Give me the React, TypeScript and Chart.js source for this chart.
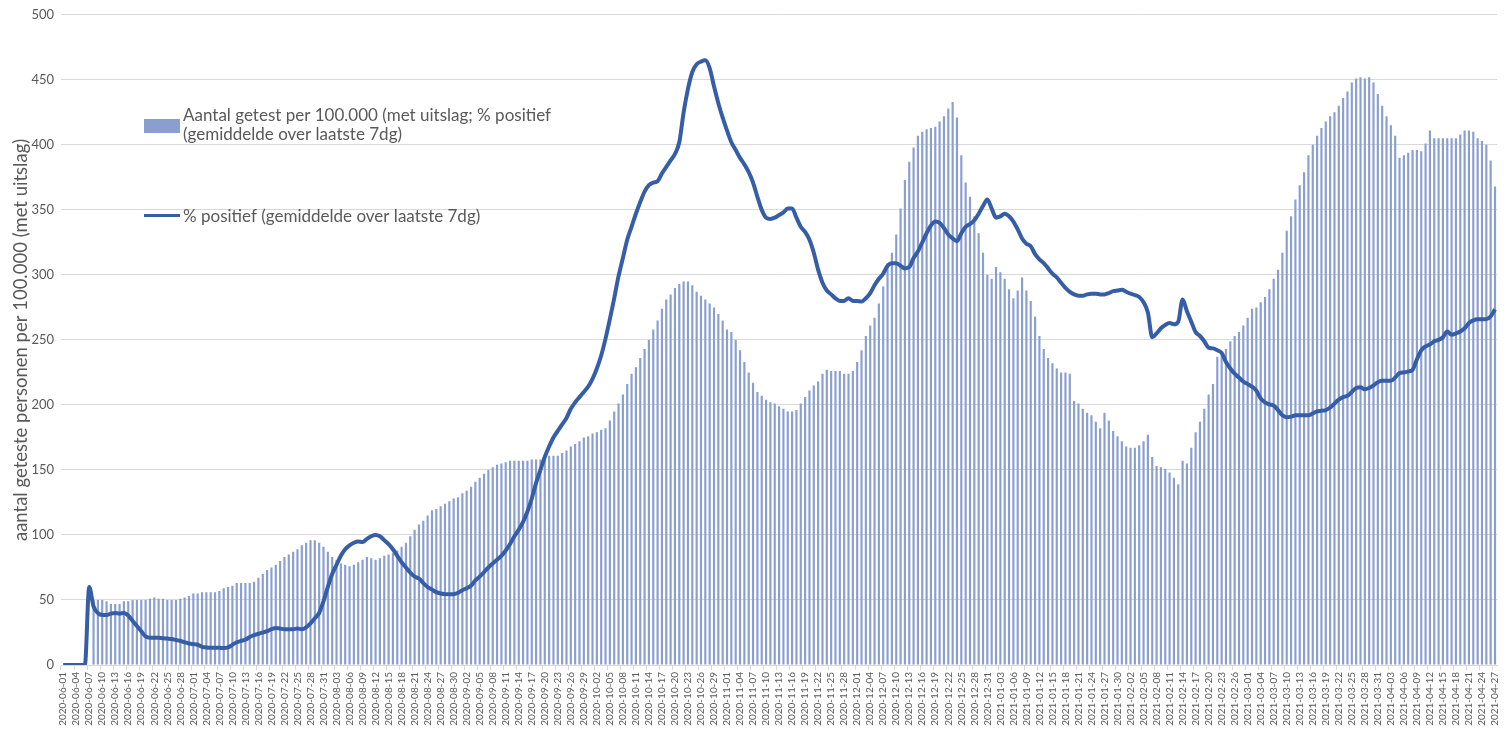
import React, { useEffect, useRef } from 'react';
import { Chart, registerables } from 'chart.js';

Chart.register(...registerables);

// ---- data ----
const START_DATE = [2020, 6, 1]; // first category (yyyy, m, d); one category per day

// aantal geteste personen per 100.000 (met uitslag), per dag
const testedPer100k: number[] = [
  0, 0, 0, 0, 0, 0, 0,
  50, 50, 50, 49, 47, 47, 47, 49, 49, 50,
  50, 50, 50, 51, 52, 51, 51, 50, 50, 50,
  51, 52, 53, 55, 55, 56, 56, 56, 56, 57,
  59, 60, 61, 63, 63, 63, 63, 64, 67, 70,
  73, 75, 77, 80, 83, 85, 87, 89, 92, 94,
  96, 96, 94, 91, 87, 83, 81, 78, 77, 76,
  77, 79, 81, 83, 82, 81, 82, 84, 85, 86,
  88, 91, 94, 99, 104, 108, 111, 115, 119, 120,
  122, 124, 126, 128, 129, 132, 134, 137, 141, 144,
  147, 150, 152, 154, 155, 156, 157, 157, 157, 157,
  157, 158, 158, 158, 159, 161, 161, 161, 163, 165,
  168, 170, 172, 175, 176, 178, 179, 181, 182, 188,
  195, 201, 208, 216, 224, 229, 236, 243, 250, 258,
  265, 274, 281, 285, 290, 293, 295, 295, 292, 287,
  284, 281, 278, 275, 270, 265, 258, 256, 250, 242,
  233, 225, 217, 210, 207, 204, 202, 201, 199, 197,
  195, 195, 196, 201, 206, 211, 215, 218, 224, 227,
  226, 226, 226, 224, 224, 226, 233, 242, 253, 261,
  267, 278, 291, 309, 317, 331, 351, 373, 387, 398,
  407, 410, 412, 413, 414, 418, 422, 428, 433, 421,
  392, 371, 360, 345, 332, 317, 300, 297, 306, 302,
  297, 289, 282, 288, 298, 288, 280, 268, 253, 243,
  236, 232, 228, 225, 225, 224, 203, 201, 197, 194,
  192, 187, 182, 194, 188, 180, 176, 172, 168, 167,
  167, 169, 172, 177, 160, 153, 152, 151, 148, 144,
  139, 157, 155, 167, 179, 187, 197, 208, 216, 237,
  241, 243, 249, 253, 256, 261, 267, 274, 275, 279,
  283, 289, 297, 304, 317, 334, 345, 358, 369, 379,
  392, 400, 407, 413, 418, 422, 425, 430, 436, 441,
  448, 451, 452, 451, 452, 448, 439, 430, 422, 415,
  407, 390, 392, 394, 396, 396, 395, 401, 411, 405,
  405, 405, 405, 405, 405, 408, 411, 411, 410, 405,
  403, 400, 388, 368,
];

// % positief (gemiddelde over laatste 7dg), as plotted on the same axis
const positiveLine: number[] = [
  0, 0, 0, 0, 0, 0, 60, 45, 40, 38.5,
  38.5, 39.5, 40, 39.5, 40, 38, 34, 30, 26, 22,
  21, 21, 21, 20.5, 20.3, 20, 19.2, 18.5, 17.5, 16.5,
  16, 15.6, 14, 13.5, 13.3, 13.3, 13.3, 13, 13.5, 15.5,
  17.5, 18.5, 19.5, 21.5, 23, 24, 25, 26, 27.5, 28.5,
  28, 27.5, 27.5, 27.5, 28, 27.5, 29, 32, 36, 40,
  49, 60, 70, 77, 84, 89, 92, 94, 95, 94.5,
  97, 99, 100, 99, 96, 93, 89, 84, 79, 75,
  71, 68, 66.5, 63, 60, 58, 56, 55, 54.5, 54.4,
  54.4, 55.5, 57.5, 59, 61, 65, 68, 71.5, 75, 78,
  81, 84, 88, 93, 99, 104, 110, 118, 128, 140,
  150, 160, 168, 175, 180, 185, 190, 197, 202, 206,
  210, 214, 220, 228, 238, 251, 266, 282, 299, 313,
  327, 337, 347, 356, 364, 369, 371, 372, 378, 383,
  388, 393, 402, 425, 443, 456, 462, 464, 465, 459,
  445, 432, 421, 411, 402, 396, 390, 385, 379, 371,
  360, 350, 344, 343, 344, 346, 348, 351, 351, 344,
  337, 333, 327, 317, 304, 294, 288, 285, 282, 280,
  280, 282, 280, 280, 279.5, 282, 286, 292, 297, 301,
  307, 309, 309, 307, 305, 306, 313, 318, 325, 332,
  338, 341, 340, 336, 331, 328, 326, 332, 337, 339,
  342, 347, 353, 358, 351, 344, 345, 347, 345, 341,
  335, 328, 324, 322, 316, 312, 309, 305, 301, 298,
  294, 290, 287, 285, 284, 284, 285, 285.5, 285.5, 285,
  285, 286, 287.5, 288, 288.5, 287, 285.5, 284.5, 283, 279,
  271, 252, 255, 259, 261.5, 263, 262, 264, 281, 272,
  264, 256, 253, 249, 244, 243.5, 242, 240, 233, 228,
  224, 221, 218, 216, 214, 211, 205, 202, 200.5, 199.5,
  196, 192, 190.5, 191, 192, 192, 192, 192, 193.5, 195,
  195.5, 196, 198, 201, 204, 206, 207, 210, 213, 213.5,
  212, 213, 215, 217.5, 218.5, 218.6, 218.6, 221, 224.5, 225,
  225.7, 227, 235, 242, 245, 246.5, 249, 250, 252, 256.5,
  254, 255, 256.5, 259, 263, 265, 265.8, 265.8, 266, 268,
  273.5,
];

const LABEL_EVERY = 3;
const Y_MIN = 0;
const Y_MAX = 500;
const Y_STEP = 50;

const Y_TITLE = 'aantal geteste personen per 100.000 (met uitslag)';
const LEGEND_BAR_TEXT = [
  'Aantal getest per 100.000 (met uitslag; % positief',
  '(gemiddelde over laatste 7dg)',
];
const LEGEND_LINE_TEXT = '% positief (gemiddelde over laatste 7dg)';

// ---- styles ----
const BAR_COLOR = '#8A9ED0';
const LINE_COLOR = '#365EA6';
const TEXT_COLOR = '#595959';
const GRID_COLOR = '#d9d9d9';
const FONT = 'Lato';

function buildDates(start: number[], n: number): string[] {
  const out: string[] = [];
  const base = Date.UTC(start[0], start[1] - 1, start[2]);
  for (let i = 0; i < n; i++) {
    const d = new Date(base + i * 86400000);
    const y = d.getUTCFullYear();
    const m = String(d.getUTCMonth() + 1).padStart(2, '0');
    const dd = String(d.getUTCDate()).padStart(2, '0');
    out.push(`${y}-${m}-${dd}`);
  }
  return out;
}

const dates = buildDates(START_DATE, testedPer100k.length);

const legendPlugin = {
  id: 'customLegend',
  afterDraw(chart: any) {
    const ctx = chart.ctx as CanvasRenderingContext2D;
    ctx.save();
    ctx.fillStyle = BAR_COLOR;
    ctx.fillRect(144, 119, 36, 14);
    ctx.strokeStyle = LINE_COLOR;
    ctx.lineWidth = 3;
    ctx.beginPath();
    ctx.moveTo(144, 215.5);
    ctx.lineTo(180, 215.5);
    ctx.stroke();
    ctx.fillStyle = TEXT_COLOR;
    ctx.font = `17px ${FONT}`;
    ctx.textBaseline = 'middle';
    ctx.textAlign = 'left';
    ctx.fillText(LEGEND_BAR_TEXT[0], 183, 116);
    ctx.fillText(LEGEND_BAR_TEXT[1], 183, 134.5);
    ctx.fillText(LEGEND_LINE_TEXT, 183, 216.5);
    ctx.restore();
  },
};

export default function App() {
  const canvasRef = useRef<HTMLCanvasElement | null>(null);

  useEffect(() => {
    const canvas = canvasRef.current;
    if (!canvas) return;
    const chart = new Chart(canvas, {
      type: 'bar',
      data: {
        labels: dates,
        datasets: [
          {
            type: 'line',
            label: LEGEND_LINE_TEXT,
            data: positiveLine,
            borderColor: LINE_COLOR,
            backgroundColor: LINE_COLOR,
            borderWidth: 4,
            pointRadius: 0,
            cubicInterpolationMode: 'monotone',
            order: 0,
          } as any,
          {
            type: 'bar',
            label: LEGEND_BAR_TEXT.join(' '),
            data: testedPer100k,
            backgroundColor: BAR_COLOR,
            barPercentage: 0.5,
            categoryPercentage: 1,
            order: 1,
          },
        ],
      },
      options: {
        responsive: false,
        animation: false,
        layout: { padding: { top: 13, right: 4, left: 0, bottom: 0 } },
        plugins: {
          legend: { display: false },
          tooltip: { enabled: false },
        },
        scales: {
          x: {
            offset: true,
            grid: {
              offset: true,
              drawOnChartArea: false,
              tickLength: 5,
              color: (c: any) => (c.index % LABEL_EVERY === 0 ? GRID_COLOR : 'rgba(0,0,0,0)'),
            },
            border: { display: true, color: GRID_COLOR },
            ticks: {
              autoSkip: false,
              maxRotation: 90,
              minRotation: 90,
              padding: 2,
              color: TEXT_COLOR,
              font: { family: FONT, size: 10 },
              callback: (_v: any, i: number) => (i % LABEL_EVERY === 0 ? dates[i] : ''),
            },
            afterFit: (s: any) => {
              s.height = 64;
            },
          },
          y: {
            min: Y_MIN,
            max: Y_MAX,
            ticks: {
              stepSize: Y_STEP,
              padding: 7,
              color: TEXT_COLOR,
              font: { family: FONT, size: 13 },
            },
            grid: { color: GRID_COLOR, drawTicks: false, lineWidth: 1 },
            border: { display: false },
            title: {
              display: true,
              text: Y_TITLE,
              color: TEXT_COLOR,
              font: { family: FONT, size: 18.5 },
              padding: { top: 10, bottom: 0 },
            },
            afterFit: (s: any) => {
              s.width = 61;
            },
          },
        },
      },
      plugins: [legendPlugin],
    });
    return () => chart.destroy();
  }, []);

  return (
    <div style={{ position: 'absolute', left: 0, top: 0, width: 1509, height: 729, background: '#fff' }}>
      <canvas ref={canvasRef} width={1509} height={729} style={{ display: 'block' }} />
    </div>
  );
}
